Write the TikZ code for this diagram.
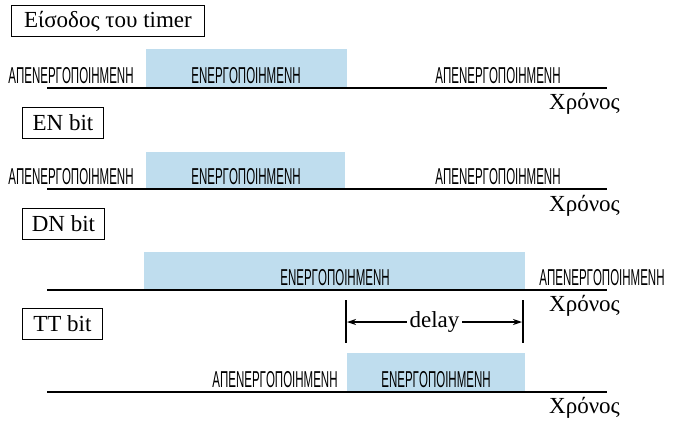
\documentclass[tikz,border=0pt]{standalone}
\usepackage{fontspec}
\setmainfont{Liberation Serif}
\newfontfamily\statefont[FakeStretch=0.5]{Liberation Sans}
\usetikzlibrary{arrows.meta}
\definecolor{onblue}{RGB}{191,221,238}

\begin{document}
\begin{tikzpicture}[x=1pt, y=-1pt,
    sigbox/.style={draw, line width=0.9pt, anchor=north west,
                   inner xsep=2pt, inner ysep=2pt, align=center,
                   minimum height=31pt, font=\fontsize{23}{26}\selectfont},
    onbar/.style={fill=onblue, draw=none, inner sep=0pt, anchor=south west},
    axis/.style={line width=2.2pt},
    st/.style={font=\statefont\fontsize{23}{25}\selectfont, anchor=base, inner sep=0pt},
    tlabel/.style={font=\fontsize{23}{26}\selectfont, anchor=base east, inner sep=0pt},
    tick/.style={line width=1.4pt},
    dim/.style={{Stealth[length=9pt,width=6pt]}-{Stealth[length=9pt,width=6pt]}, line width=1.1pt}
  ]
    \useasboundingbox (0,0) rectangle (676,421);

    % Timer input
    \node[sigbox, minimum width=193pt] (inlbl) at (11,5) {Είσοδος του timer};
    \node[onbar, minimum width=201pt, minimum height=39pt] (inbar) at (146,88) {};
    \coordinate (in0) at (47,88);
    \coordinate (in1) at (607,88);
    \draw[axis] (in0) -- (in1);
    \node[st] (inoff) at (71,83) {ΑΠΕΝΕΡΓΟΠΟΙΗΜΕΝΗ};
    \node[st] (inon) at (246,83) {ΕΝΕΡΓΟΠΟΙΗΜΕΝΗ};
    \node[st] (inoff2) at (498,83) {ΑΠΕΝΕΡΓΟΠΟΙΗΜΕΝΗ};
    \node[tlabel] (intime) at (620,109) {Χρόνος};

    % EN bit
    \node[sigbox, minimum width=81pt] (enlbl) at (22,107) {EN bit};
    \node[onbar, minimum width=199pt, minimum height=37pt] (enbar) at (146,189) {};
    \coordinate (en0) at (47,189);
    \coordinate (en1) at (607,189);
    \draw[axis] (en0) -- (en1);
    \node[st] (enoff) at (71,184) {ΑΠΕΝΕΡΓΟΠΟΙΗΜΕΝΗ};
    \node[st] (enon) at (246,184) {ΕΝΕΡΓΟΠΟΙΗΜΕΝΗ};
    \node[st] (enoff2) at (498,184) {ΑΠΕΝΕΡΓΟΠΟΙΗΜΕΝΗ};
    \node[tlabel] (entime) at (620,211) {Χρόνος};

    % DN bit
    \node[sigbox, minimum width=82pt] (dnlbl) at (22,208) {DN bit};
    \node[onbar, minimum width=381pt, minimum height=38pt] (dnbar) at (144,290) {};
    \coordinate (dn0) at (47,290);
    \coordinate (dn1) at (607,290);
    \draw[axis] (dn0) -- (dn1);
    \node[st] (dnon) at (335,285) {ΕΝΕΡΓΟΠΟΙΗΜΕΝΗ};
    \node[st] (dnoff) at (602,285) {ΑΠΕΝΕΡΓΟΠΟΙΗΜΕΝΗ};
    \node[tlabel] (dntime) at (620,311) {Χρόνος};

    % delay between DN and TT
    \coordinate (d0t) at (346,300);
    \coordinate (d0b) at (346,343);
    \coordinate (d1t) at (523,300);
    \coordinate (d1b) at (523,343);
    \draw[tick] (d0t) -- (d0b);
    \draw[tick] (d1t) -- (d1b);
    \coordinate (d0) at (347,322);
    \coordinate (d1) at (522,322);
    \draw[dim] (d0) -- node[fill=white, inner xsep=3pt, inner ysep=1pt,
                           font=\fontsize{23}{26}\selectfont] (delay) {delay} (d1);

    % TT bit
    \node[sigbox, minimum width=80pt] (ttlbl) at (22,308) {TT bit};
    \node[onbar, minimum width=178pt, minimum height=39pt] (ttbar) at (347,392) {};
    \coordinate (tt0) at (47,392);
    \coordinate (tt1) at (607,392);
    \draw[axis] (tt0) -- (tt1);
    \node[st] (ttoff) at (275,387) {ΑΠΕΝΕΡΓΟΠΟΙΗΜΕΝΗ};
    \node[st] (tton) at (436,387) {ΕΝΕΡΓΟΠΟΙΗΜΕΝΗ};
    \node[tlabel] (tttime) at (620,413) {Χρόνος};
\end{tikzpicture}
\end{document}
